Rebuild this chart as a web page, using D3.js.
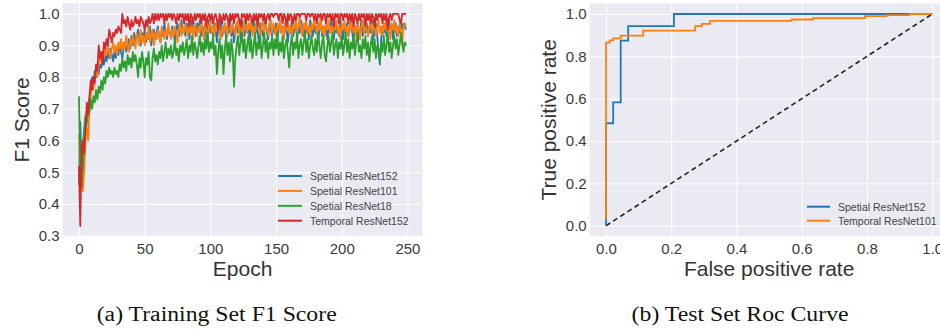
<!DOCTYPE html>
<html>
<head>
<meta charset="utf-8">
<script src="https://cdn.jsdelivr.net/npm/d3@7"></script>
<style>
  body { margin: 0; background: #fff; }
  svg { display: block; font-family: "Liberation Sans", Arial, sans-serif; }
</style>
</head>
<body>
<script>
// ---- data: training F1 per epoch (0..249) ----
const seriesNames = ["Spetial ResNet152", "Spetial ResNet101", "Spetial ResNet18", "Temporal ResNet152"];
const seriesColors = ["#1f77b4", "#ff7f0e", "#2ca02c", "#d62728"];

const spatial152 = [
  0.46,0.66,0.52,0.50,0.58,0.62,0.66,0.70,0.73,0.76,
  0.80,0.78,0.82,0.80,0.83,0.81,0.84,0.83,0.86,0.84,
  0.87,0.85,0.88,0.86,0.89,0.87,0.85,0.88,0.86,0.89,
  0.87,0.90,0.88,0.86,0.89,0.91,0.88,0.90,0.92,0.89,
  0.93,0.90,0.94,0.91,0.93,0.95,0.92,0.90,0.94,0.92,
  0.95,0.91,0.94,0.92,0.96,0.90,0.93,0.95,0.92,0.94,
  0.96,0.93,0.91,0.95,0.93,0.97,0.94,0.92,0.96,0.94,
  0.93,0.96,0.94,0.91,0.95,0.97,0.93,0.95,0.98,0.94,
  0.96,0.93,0.97,0.95,0.92,0.96,0.98,0.94,0.96,0.93,
  0.97,0.95,0.98,0.93,0.96,0.94,0.97,0.92,0.95,0.98,
  0.94,0.96,0.93,0.97,0.95,0.91,0.96,0.94,0.98,0.93,
  0.95,0.97,0.92,0.96,0.94,0.98,0.93,0.96,0.91,0.95,
  0.97,0.94,0.96,0.92,0.98,0.95,0.93,0.97,0.94,0.96,
  0.92,0.97,0.95,0.98,0.93,0.96,0.94,0.91,0.97,0.95,
  0.93,0.96,0.98,0.94,0.92,0.97,0.95,0.93,0.96,0.94,
  0.97,0.92,0.95,0.98,0.94,0.96,0.93,0.97,0.95,0.91,
  0.96,0.94,0.98,0.93,0.95,0.97,0.92,0.96,0.94,0.98,
  0.95,0.93,0.97,0.94,0.96,0.92,0.98,0.95,0.93,0.97,
  0.94,0.96,0.91,0.95,0.98,0.93,0.96,0.94,0.97,0.92,
  0.96,0.94,0.98,0.95,0.92,0.97,0.94,0.96,0.93,0.98,
  0.95,0.92,0.96,0.94,0.97,0.93,0.95,0.98,0.94,0.91,
  0.96,0.94,0.97,0.92,0.95,0.98,0.93,0.96,0.94,0.97,
  0.93,0.96,0.94,0.98,0.92,0.95,0.97,0.93,0.88,0.84,
  0.92,0.96,0.94,0.97,0.93,0.95,0.98,0.94,0.96,0.92,
  0.95,0.97,0.93,0.96,0.94,0.98,0.95,0.97,0.96,0.95
];

const spatial101 = [
  0.62,0.48,0.56,0.44,0.50,0.60,0.64,0.60,0.70,0.74,
  0.78,0.76,0.80,0.82,0.80,0.84,0.86,0.85,0.88,0.86,
  0.89,0.87,0.90,0.88,0.86,0.89,0.91,0.88,0.90,0.87,
  0.91,0.89,0.92,0.88,0.91,0.89,0.93,0.90,0.88,0.92,
  0.90,0.93,0.91,0.89,0.94,0.92,0.90,0.95,0.91,0.93,
  0.90,0.94,0.92,0.96,0.91,0.93,0.95,0.90,0.94,0.92,
  0.95,0.93,0.91,0.96,0.94,0.92,0.95,0.93,0.97,0.94,
  0.92,0.95,0.93,0.96,0.94,0.91,0.95,0.97,0.93,0.96,
  0.94,0.97,0.95,0.93,0.98,0.94,0.96,0.92,0.97,0.95,
  0.93,0.96,0.94,0.98,0.95,0.92,0.97,0.95,0.93,0.96,
  0.98,0.94,0.96,0.93,0.97,0.95,0.98,0.94,0.92,0.96,
  0.94,0.97,0.95,0.93,0.98,0.96,0.94,0.97,0.95,0.93,
  0.96,0.98,0.94,0.97,0.95,0.93,0.98,0.96,0.94,0.97,
  0.95,0.98,0.93,0.96,0.94,0.97,0.99,0.95,0.93,0.96,
  0.98,0.94,0.97,0.95,0.93,0.96,0.98,0.94,0.97,0.95,
  0.93,0.97,0.95,0.98,0.94,0.96,0.92,0.97,0.95,0.98,
  0.94,0.96,0.93,0.97,0.95,0.98,0.94,0.96,0.99,0.95,
  0.93,0.97,0.95,0.98,0.94,0.96,0.93,0.97,0.95,0.98,
  0.96,0.94,0.97,0.95,0.99,0.94,0.96,0.93,0.97,0.95,
  0.98,0.94,0.96,0.93,0.97,0.95,0.98,0.94,0.96,0.92,
  0.97,0.95,0.98,0.94,0.96,0.93,0.97,0.95,0.98,0.94,
  0.96,0.93,0.97,0.95,0.92,0.96,0.98,0.94,0.97,0.95,
  0.93,0.96,0.98,0.94,0.97,0.95,0.93,0.96,0.98,0.94,
  0.96,0.93,0.97,0.95,0.98,0.94,0.96,0.92,0.97,0.95,
  0.98,0.94,0.96,0.93,0.97,0.95,0.90,0.96,0.97,0.96
];

const spatial18 = [
  0.74,0.50,0.45,0.58,0.64,0.68,0.66,0.71,0.69,0.73,
  0.70,0.74,0.72,0.76,0.73,0.77,0.75,0.79,0.76,0.80,
  0.78,0.82,0.80,0.83,0.81,0.82,0.80,0.83,0.81,0.82,
  0.80,0.84,0.82,0.86,0.83,0.85,0.82,0.87,0.84,0.86,
  0.83,0.88,0.85,0.87,0.84,0.80,0.86,0.83,0.88,0.85,
  0.80,0.86,0.84,0.88,0.80,0.79,0.86,0.89,0.85,0.87,
  0.84,0.88,0.86,0.90,0.85,0.88,0.91,0.86,0.89,0.87,
  0.90,0.86,0.88,0.92,0.87,0.89,0.85,0.90,0.88,0.91,
  0.87,0.89,0.92,0.86,0.90,0.88,0.93,0.87,0.91,0.89,
  0.86,0.90,0.93,0.88,0.91,0.87,0.92,0.89,0.94,0.88,
  0.91,0.89,0.93,0.87,0.90,0.81,0.88,0.92,0.86,0.90,
  0.81,0.89,0.93,0.87,0.91,0.85,0.92,0.88,0.77,0.86,
  0.90,0.93,0.87,0.91,0.94,0.88,0.92,0.86,0.90,0.93,
  0.88,0.92,0.86,0.90,0.94,0.87,0.91,0.89,0.93,0.86,
  0.90,0.94,0.88,0.92,0.86,0.91,0.89,0.93,0.87,0.92,
  0.89,0.94,0.87,0.91,0.88,0.93,0.86,0.90,0.92,0.88,
  0.83,0.90,0.93,0.87,0.91,0.89,0.94,0.86,0.90,0.92,
  0.87,0.91,0.94,0.88,0.92,0.86,0.90,0.93,0.89,0.87,
  0.92,0.88,0.94,0.90,0.86,0.91,0.93,0.87,0.85,0.90,
  0.93,0.88,0.91,0.94,0.87,0.90,0.92,0.86,0.91,0.89,
  0.93,0.87,0.90,0.94,0.88,0.92,0.86,0.91,0.89,0.93,
  0.87,0.91,0.94,0.88,0.90,0.86,0.92,0.89,0.93,0.87,
  0.91,0.85,0.90,0.93,0.88,0.92,0.86,0.90,0.89,0.85,
  0.91,0.88,0.93,0.87,0.90,0.94,0.88,0.91,0.86,0.90,
  0.93,0.89,0.92,0.87,0.90,0.94,0.91,0.88,0.91,0.90
];

const temporal152 = [
  0.52,0.33,0.58,0.60,0.56,0.64,0.72,0.68,0.74,0.79,
  0.76,0.80,0.78,0.84,0.82,0.90,0.86,0.88,0.84,0.91,
  0.89,0.92,0.90,0.95,0.93,0.91,0.94,0.93,0.95,0.94,
  0.96,0.95,0.94,1.00,0.97,0.98,0.96,0.99,0.97,0.95,
  0.98,0.96,0.97,0.99,0.97,0.98,0.96,0.99,0.98,0.97,
  0.95,0.98,0.96,0.99,0.97,0.98,1.00,0.97,1.00,0.98,
  1.00,0.98,1.00,0.99,1.00,0.97,1.00,0.98,1.00,0.99,
  1.00,0.98,1.00,0.99,0.97,1.00,0.98,1.00,0.99,1.00,
  0.97,1.00,0.98,1.00,0.96,1.00,0.99,0.97,1.00,0.98,
  1.00,0.99,1.00,0.97,1.00,0.98,1.00,0.96,0.99,1.00,
  0.98,1.00,0.97,0.99,1.00,0.98,0.95,1.00,0.99,0.97,
  1.00,0.98,1.00,0.99,0.96,1.00,0.98,1.00,0.97,1.00,
  0.99,1.00,0.98,0.96,1.00,0.99,1.00,0.97,1.00,0.98,
  1.00,0.99,0.97,1.00,0.98,1.00,0.96,1.00,0.99,1.00,
  0.98,1.00,0.97,0.99,1.00,0.98,1.00,1.00,0.99,1.00,
  1.00,1.00,0.98,1.00,1.00,0.97,1.00,0.99,0.96,1.00,
  0.98,1.00,0.99,0.97,1.00,0.98,1.00,1.00,0.99,1.00,
  1.00,1.00,1.00,0.98,1.00,1.00,0.99,1.00,1.00,0.98,
  1.00,0.97,1.00,0.99,1.00,0.98,1.00,1.00,0.97,1.00,
  0.99,1.00,0.98,1.00,0.96,1.00,0.99,1.00,0.97,1.00,
  1.00,0.98,1.00,0.99,1.00,0.97,1.00,0.98,1.00,0.96,
  1.00,0.99,0.97,1.00,0.98,1.00,0.99,1.00,0.96,1.00,
  0.98,1.00,0.97,1.00,0.99,0.96,1.00,0.98,1.00,0.99,
  1.00,0.97,1.00,0.98,1.00,0.95,0.99,1.00,0.98,1.00,
  1.00,1.00,1.00,1.00,0.98,0.97,1.00,1.00,1.00,1.00
];

const f1Ticks = [0.3, 0.4, 0.5, 0.6, 0.7, 0.8, 0.9, 1.0];
const epochTicks = [0, 50, 100, 150, 200, 250];

// ---- data: ROC curves ----
const rocNames = ["Spetial ResNet152", "Temporal ResNet101"];
const rocColors = ["#1f77b4", "#ff7f0e"];
const roc152Fpr = [0, 0, 0.022, 0.022, 0.045, 0.045, 0.068, 0.068, 0.208, 0.208, 1.0];
const roc152Tpr = [0, 0.484, 0.484, 0.583, 0.583, 0.874, 0.874, 0.943, 0.943, 1.0, 1.0];
const roc101Fpr = [0, 0, 0.011, 0.011, 0.022, 0.022, 0.045, 0.045, 0.114, 0.114, 0.273, 0.273,
  0.293, 0.293, 0.319, 0.319, 0.569, 0.569, 0.635, 0.635, 0.793, 0.793, 0.86, 0.86, 0.93, 0.93, 1.0];
const roc101Tpr = [0.03, 0.865, 0.865, 0.875, 0.875, 0.885, 0.885, 0.898, 0.898, 0.921, 0.921, 0.943,
  0.943, 0.953, 0.953, 0.967, 0.967, 0.974, 0.974, 0.98, 0.98, 0.99, 0.99, 0.995, 0.995, 1.0, 1.0];
const rateTicks = [0.0, 0.2, 0.4, 0.6, 0.8, 1.0];

const W = 940, H = 329;
const svg = d3.select("body").append("svg").attr("width", W).attr("height", H);

function panel(opts) {
  const { x, y, xTicks, yTicks, xFmt, yFmt, xTitle, yTitle, yTitleX, id } = opts;
  const [x0, x1] = x.range(), [y1, y0] = y.range();
  const g = svg.append("g");
  g.append("rect").attr("x", x0).attr("y", y0).attr("width", x1 - x0).attr("height", y1 - y0)
    .attr("fill", "#eaeaf2");
  g.append("clipPath").attr("id", id).append("rect")
    .attr("x", x0).attr("y", y0).attr("width", x1 - x0).attr("height", y1 - y0);

  const ya = g.append("g").attr("transform", `translate(${x0},0)`)
    .call(d3.axisLeft(y).tickValues(yTicks).tickFormat(yFmt).tickSize(-(x1 - x0)).tickPadding(3));
  const xa = g.append("g").attr("transform", `translate(0,${y1})`)
    .call(d3.axisBottom(x).tickValues(xTicks).tickFormat(xFmt).tickSize(-(y1 - y0)).tickPadding(7));
  [ya, xa].forEach(a => {
    a.select(".domain").remove();
    a.selectAll("line").attr("stroke", "#fff").attr("stroke-width", 1);
    a.selectAll("text").attr("fill", "#3a3a3a").style("font-size", "15px")
      .style("font-family", "Liberation Sans, Arial, sans-serif");
  });

  g.append("text").attr("x", (x0 + x1) / 2).attr("y", 276).attr("text-anchor", "middle")
    .attr("fill", "#333").style("font-size", "21px").text(xTitle);
  g.append("text").attr("transform", `translate(${yTitleX},${(y0 + y1) / 2}) rotate(-90)`)
    .attr("text-anchor", "middle").attr("fill", "#333").style("font-size", "21px").text(yTitle);

  return g.append("g").attr("clip-path", `url(#${id})`);
}

// ---- left: F1 score ----
const xE = d3.scaleLinear().domain([-12.45, 261.45]).range([62.6, 422.5]);
const yF = d3.scaleLinear().domain([0.2965, 1.0335]).range([236.7, 3.2]);
const left = panel({
  x: xE, y: yF, xTicks: epochTicks, yTicks: f1Ticks, xFmt: d3.format("d"), yFmt: d3.format(".1f"),
  xTitle: "Epoch", yTitle: "F1 Score", yTitleX: 29, id: "clipL"
});
const f1Series = [spatial152, spatial101, spatial18, temporal152];
const f1Line = d3.line().x((d, i) => xE(i)).y(d => yF(d));
f1Series.forEach((s, k) => {
  left.append("path").datum(s).attr("d", f1Line).attr("fill", "none")
    .attr("stroke", seriesColors[k]).attr("stroke-width", 1.8).attr("stroke-linejoin", "round");
});
const legL = svg.append("g");
seriesNames.forEach((n, k) => {
  const yy = 176 + k * 14.9;
  legL.append("line").attr("x1", 278).attr("x2", 302).attr("y1", yy).attr("y2", yy)
    .attr("stroke", seriesColors[k]).attr("stroke-width", 2);
  legL.append("text").attr("x", 310).attr("y", yy + 3.8).attr("fill", "#444")
    .style("font-size", "10.5px").text(n);
});

// ---- right: ROC ----
const xR = d3.scaleLinear().domain([-0.05, 1.05]).range([589.7, 948.6]);
const yR = d3.scaleLinear().domain([-0.05, 1.05]).range([236.3, 3.4]);
const right = panel({
  x: xR, y: yR, xTicks: rateTicks, yTicks: rateTicks, xFmt: d3.format(".1f"), yFmt: d3.format(".1f"),
  xTitle: "False positive rate", yTitle: "True positive rate", yTitleX: 556, id: "clipR"
});
const rocLine = d3.line().x(d => xR(d[0])).y(d => yR(d[1]));
right.append("path").datum([[0, 0], [1, 1]]).attr("d", rocLine).attr("fill", "none")
  .attr("stroke", "#222").attr("stroke-width", 1.6).attr("stroke-dasharray", "5,3.5");
[[roc152Fpr, roc152Tpr], [roc101Fpr, roc101Tpr]].forEach((r, k) => {
  right.append("path").datum(d3.zip(r[0], r[1])).attr("d", rocLine).attr("fill", "none")
    .attr("stroke", rocColors[k]).attr("stroke-width", 1.8);
});
const legR = svg.append("g");
rocNames.forEach((n, k) => {
  const yy = 206.7 + k * 14;
  legR.append("line").attr("x1", 807).attr("x2", 830).attr("y1", yy).attr("y2", yy)
    .attr("stroke", rocColors[k]).attr("stroke-width", 2);
  legR.append("text").attr("x", 838).attr("y", yy + 3.8).attr("fill", "#444")
    .style("font-size", "10.5px").text(n);
});

// ---- captions ----
const cap = svg.append("g").style("font-family", "Liberation Serif, Times New Roman, serif")
  .style("font-size", "20px").attr("fill", "#111");
cap.append("text").attr("x", 96.7).attr("y", 321).attr("textLength", 240)
  .attr("lengthAdjust", "spacingAndGlyphs").text("(a) Training Set F1 Score");
cap.append("text").attr("x", 631.6).attr("y", 321).attr("textLength", 217)
  .attr("lengthAdjust", "spacingAndGlyphs").text("(b) Test Set Roc Curve");
</script>
</body>
</html>
